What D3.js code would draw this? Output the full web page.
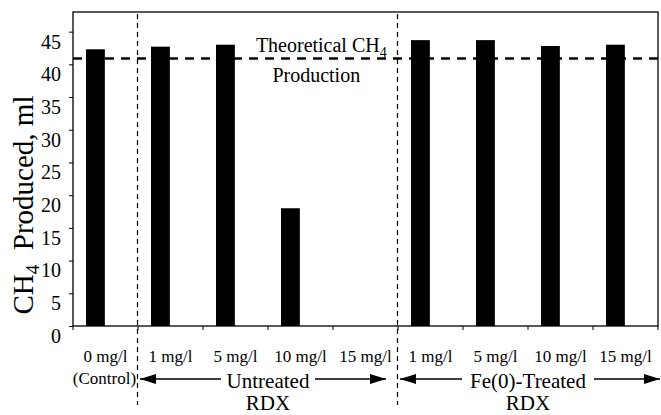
<!DOCTYPE html>
<html>
<head>
<meta charset="utf-8">
<title>CH4 produced</title>
<script src="https://cdn.jsdelivr.net/npm/d3@7/dist/d3.min.js"></script>
<style>
  body { margin: 0; background: #fff; }
  text { font-family: "Liberation Serif", "DejaVu Serif", serif; fill: #000; }
</style>
</head>
<body>
<div id="chart"></div>
<script>
// data
var categories = ["c0", "u1", "u5", "u10", "u15", "f1", "f5", "f10", "f15"];
var catLabels = ["0 mg/l", "1 mg/l", "5 mg/l", "10 mg/l", "15 mg/l", "1 mg/l", "5 mg/l", "10 mg/l", "15 mg/l"];
var ch4Values = [42.3, 42.7, 43.0, 18.0, 0, 43.7, 43.7, 42.8, 43.0];
var theoretical = 40.9;
var yTicks = [0, 5, 10, 15, 20, 25, 30, 35, 40, 45];
var groupDividers = ["u1", "f1"];   // dashed vertical lines sit on the left edge of these bands

var W = 661, H = 415;
var margin = {top: 12, right: 3, bottom: 89, left: 73};
var width = W - margin.left - margin.right,
    height = H - margin.top - margin.bottom;

var svg = d3.select("#chart").append("svg")
    .attr("width", W).attr("height", H);

var defs = svg.append("defs");
defs.append("marker").attr("id", "ah")
    .attr("viewBox", "0 0 16 10").attr("refX", 16).attr("refY", 5)
    .attr("markerWidth", 16).attr("markerHeight", 10)
    .attr("markerUnits", "userSpaceOnUse").attr("orient", "auto-start-reverse")
  .append("path").attr("d", "M0,0L16,5L0,10Z").attr("fill", "#000");

var g = svg.append("g").attr("transform", "translate(" + margin.left + "," + margin.top + ")");

var x = d3.scaleBand().domain(categories).range([0, width]).padding(0);
var y = d3.scaleLinear().domain([0, 48]).range([height, 0]);

// frame
g.append("rect").attr("width", width).attr("height", height)
    .attr("fill", "none").attr("stroke", "#000").attr("stroke-width", 1.3);

// y axis
var yAxis = g.append("g").call(d3.axisLeft(y).tickValues(yTicks).tickSize(4).tickPadding(8))
yAxis.attr("font-family", null);
yAxis.select(".domain").remove();
yAxis.selectAll("text").attr("font-size", 20).attr("dy", "0.32em")
    .attr("transform", "translate(0,10)");

// x axis ticks at band edges
var xAxis = g.append("g").attr("transform", "translate(0," + height + ")");
xAxis.selectAll("line").data(categories.concat(["end"])).enter().append("line")
    .attr("x1", function(d) { return d === "end" ? width : x(d); })
    .attr("x2", function(d) { return d === "end" ? width : x(d); })
    .attr("y1", 0).attr("y2", 4).attr("stroke", "#000");

// bars (drawn left of band centre like the original)
var barOff = x.bandwidth() * 0.2, barW = x.bandwidth() * 0.29;
g.selectAll(".bar").data(categories).enter().append("rect")
    .attr("class", "bar")
    .attr("x", function(d) { return x(d) + barOff; })
    .attr("width", barW)
    .attr("y", function(d, i) { return y(ch4Values[i]); })
    .attr("height", function(d, i) { return height - y(ch4Values[i]); })
    .attr("fill", "#000");

// theoretical line
g.append("line").attr("x1", 0).attr("x2", width)
    .attr("y1", y(theoretical)).attr("y2", y(theoretical))
    .attr("stroke", "#000").attr("stroke-width", 2.6).attr("stroke-dasharray", "9,7");

var thX = x("u10") + x.bandwidth() * 0.82;
var th = g.append("text").attr("x", thX).attr("y", y(theoretical) - 6)
    .attr("text-anchor", "middle").attr("font-size", 20);
th.append("tspan").text("Theoretical CH");
th.append("tspan").attr("font-size", 14).attr("dy", 5).text("4");
g.append("text").attr("x", thX - 5).attr("y", y(theoretical) + 24)
    .attr("text-anchor", "middle").attr("font-size", 20).text("Production");

// group dividers
g.selectAll(".div").data(groupDividers).enter().append("line")
    .attr("x1", function(d) { return x(d) - 0.5; }).attr("x2", function(d) { return x(d) - 0.5; })
    .attr("y1", 2).attr("y2", H - margin.top - 10)
    .attr("stroke", "#000").attr("stroke-width", 1.2).attr("stroke-dasharray", "5,4");

// category labels
g.selectAll(".cl").data(categories).enter().append("text")
    .attr("x", function(d) { return x(d) + x.bandwidth() / 2; })
    .attr("y", height + 36)
    .attr("text-anchor", "middle").attr("font-size", 17)
    .text(function(d, i) { return catLabels[i]; });
g.append("text").attr("x", x("c0") + x.bandwidth() / 2 - 1).attr("y", height + 58)
    .attr("text-anchor", "middle").attr("font-size", 17).text("(Control)");

// group arrows
function group(first, last, label, gap, endPad) {
  var x0 = x(first) + 2, x1 = x(last) + x.bandwidth() + endPad;
  var cx = x(first) + (x(last) + x.bandwidth() - x(first)) / 2, ay = height + 53;
  g.append("line").attr("x1", x0).attr("x2", cx - gap).attr("y1", ay).attr("y2", ay)
      .attr("stroke", "#000").attr("stroke-width", 1.5).attr("marker-start", "url(#ah)");
  g.append("line").attr("x1", cx + gap).attr("x2", x1).attr("y1", ay).attr("y2", ay)
      .attr("stroke", "#000").attr("stroke-width", 1.5).attr("marker-end", "url(#ah)");
  g.append("text").attr("x", cx).attr("y", ay + 9).attr("text-anchor", "middle")
      .attr("font-size", 21).text(label);
  g.append("text").attr("x", cx).attr("y", ay + 31).attr("text-anchor", "middle")
      .attr("font-size", 21).text("RDX");
}
group("u1", "u15", "Untreated", 47, -12);
group("f1", "f15", "Fe(0)-Treated", 66, 2);

// y axis title
var yl = svg.append("text").attr("transform", "translate(33,205) rotate(-90)")
    .attr("text-anchor", "middle").attr("font-size", 29);
yl.append("tspan").text("CH");
yl.append("tspan").attr("font-size", 19).attr("dy", 6).text("4");
yl.append("tspan").attr("dy", -6).text("\u00a0 Produced, ml");
</script>
</body>
</html>
